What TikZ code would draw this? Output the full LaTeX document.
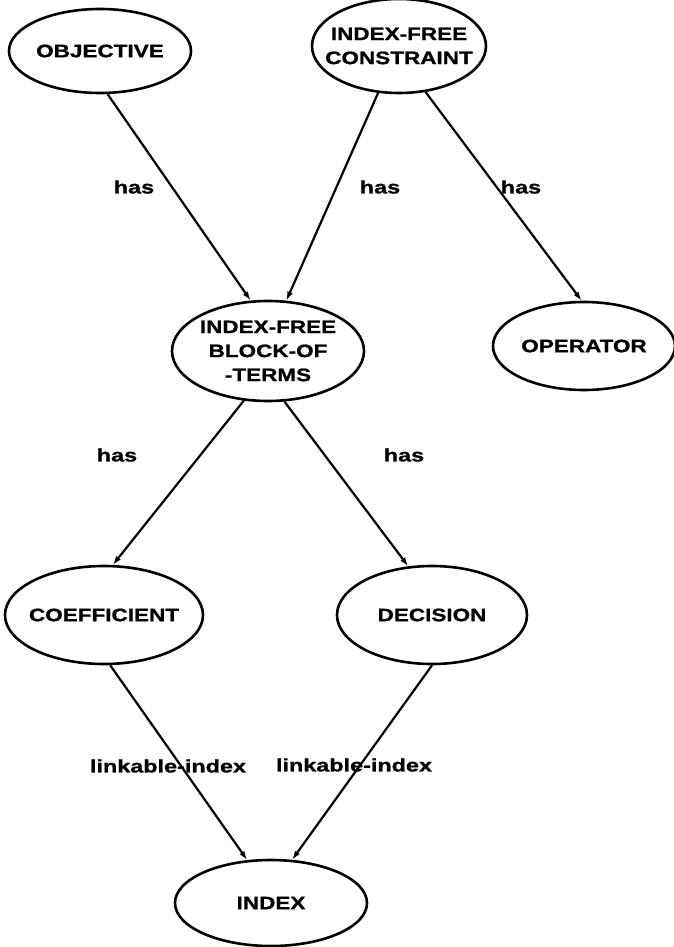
\documentclass[tikz,border=0pt]{standalone}
\usepackage{fontspec}
\usetikzlibrary{shapes.geometric,arrows.meta}
\newfontfamily\lblfont{Liberation Sans}[FakeStretch=1.25,FakeBold=1.2]
\newfontfamily\tagfont{Liberation Sans}[FakeStretch=1.3,FakeBold=1.2]
\begin{document}
\begin{tikzpicture}[x=1pt,y=-1pt,
  % the ellipse size is set by minimum width/height only
  entity/.style={ellipse,draw,line width=2.6pt,inner xsep=-60pt,inner ysep=-30pt,align=center,
    font=\lblfont\bfseries\fontsize{18}{24}\selectfont},
  rel/.style={line width=2.2pt,-{Latex[length=9pt,width=6pt]}},
  tag/.style={font=\tagfont\bfseries\fontsize{18}{22}\selectfont,inner sep=0pt}]
\useasboundingbox (0,0) rectangle (674,947);

% entities
\node[entity,minimum width=182pt,minimum height=84pt] (obj) at (100,51) {OBJECTIVE};
\node[entity,minimum width=174pt,minimum height=94pt] (con) at (399,46) {INDEX-FREE\\CONSTRAINT};
\node[entity,minimum width=192pt,minimum height=100pt] (blk) at (268,351) {INDEX-FREE\\BLOCK-OF\\-TERMS};
\node[entity,minimum width=182pt,minimum height=88pt] (op) at (584,346) {OPERATOR};
\node[entity,minimum width=198pt,minimum height=98pt] (coef) at (104,615) {COEFFICIENT};
\node[entity,minimum width=190pt,minimum height=98pt] (dec) at (432,615) {DECISION};
\node[entity,minimum width=192pt,minimum height=86pt] (idx) at (271,903) {INDEX};

% relations
\draw[rel] (obj.-80) -- (blk.109);
\draw[rel] (con.-114) -- (blk.70);
\draw[rel] (con.-60) -- (op.93);
\draw[rel] (blk.-116) -- (coef.80);
\draw[rel] (blk.-72) -- (dec.116);
\draw[rel] (coef.-83) -- (idx.119);
\draw[rel] (dec.-90) -- (idx.64);

% relation labels
\node[tag] (h1) at (134,187) {has};
\node[tag] (h2) at (380,187) {has};
\node[tag] (h3) at (521,187) {has};
\node[tag] (h4) at (117,455) {has};
\node[tag] (h5) at (404,455) {has};
\node[tag] (l1) at (168,766) {linkable-index};
\node[tag] (l2) at (354,765) {linkable-index};
\end{tikzpicture}
\end{document}
